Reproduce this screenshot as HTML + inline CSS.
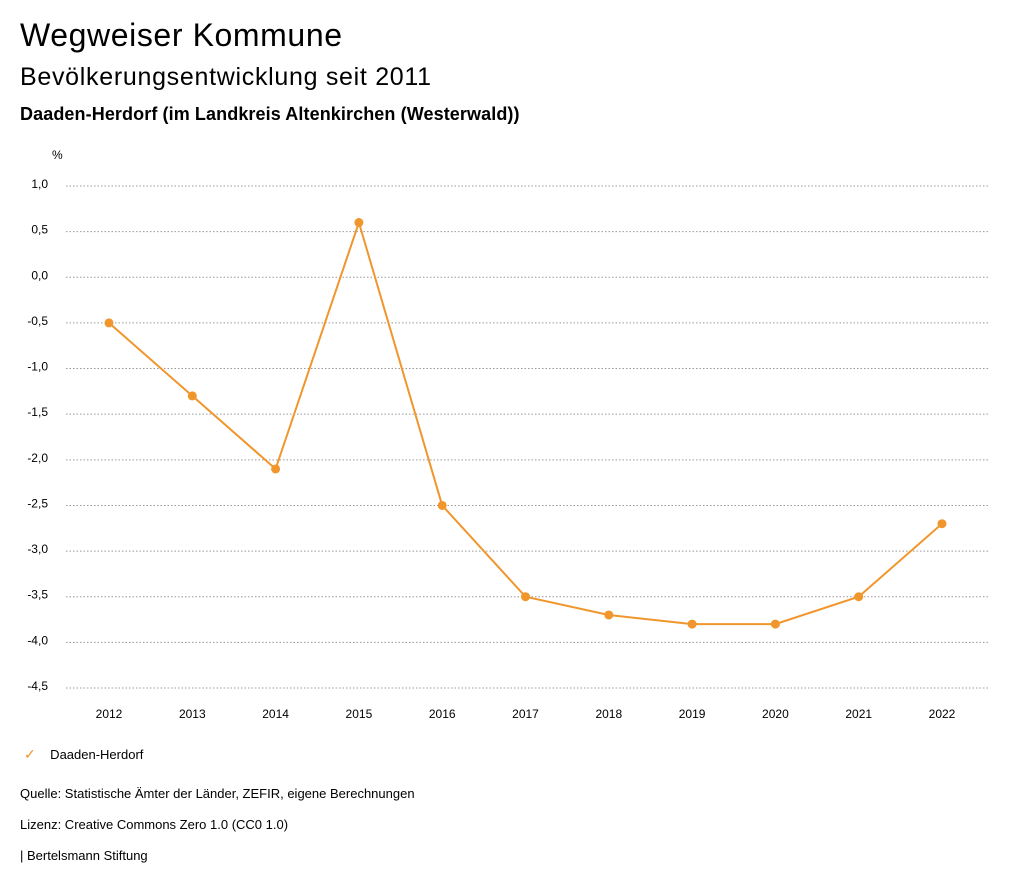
<!DOCTYPE html>
<html><head><meta charset="utf-8"><style>
body{margin:0;width:1024px;height:888px;background:#fff;font-family:"Liberation Sans",sans-serif;color:#000;overflow:hidden}
.t{position:absolute;left:20px;white-space:nowrap}
</style></head><body>
<div class="t" style="top:17px;font-size:32px;letter-spacing:0.6px">Wegweiser Kommune</div>
<div class="t" style="top:63px;font-size:25px;letter-spacing:0.7px">Bevölkerungsentwicklung seit 2011</div>
<div class="t" style="top:104px;font-size:18px;font-weight:bold;letter-spacing:0.1px">Daaden-Herdorf (im Landkreis Altenkirchen (Westerwald))</div>
<svg id="chart" width="1024" height="740" style="position:absolute;left:0;top:0"></svg>
<div class="t" style="top:746px;font-size:13px;left:24px"><span style="color:#f0962d;font-size:14px">✓</span>&nbsp;&nbsp;&nbsp;&nbsp;Daaden-Herdorf</div>
<div class="t" style="top:786px;font-size:13px">Quelle: Statistische Ämter der Länder, ZEFIR, eigene Berechnungen</div>
<div class="t" style="top:817px;font-size:13px">Lizenz: Creative Commons Zero 1.0 (CC0 1.0)</div>
<div class="t" style="top:848px;font-size:13px">| Bertelsmann Stiftung</div>
<script>
const years=["2012","2013","2014","2015","2016","2017","2018","2019","2020","2021","2022"];
const values=[-0.5,-1.3,-2.1,0.6,-2.5,-3.5,-3.7,-3.8,-3.8,-3.5,-2.7];
const yTicks=[1.0,0.5,0,-0.5,-1.0,-1.5,-2.0,-2.5,-3.0,-3.5,-4.0,-4.5];
const svg=document.getElementById('chart');const NS='http://www.w3.org/2000/svg';
function y(v){return 186+(1.0-v)/5.5*502;}
function x(i){return 109+i*(942-109)/(years.length-1);}
function mk(t,a,p){const e=document.createElementNS(NS,t);for(const k in a)e.setAttribute(k,a[k]);(p||svg).appendChild(e);return e;}
const u=mk('text',{x:52,y:159,'font-size':12});u.textContent='%';


yTicks.forEach(v=>{
 const l=mk('line',{x1:66,x2:990,y1:y(v),y2:y(v),stroke:'#999','stroke-dasharray':'1.5,2','stroke-width':1});
 
 
 const t=mk('text',{x:48,y:y(v)+2,'font-size':12,'text-anchor':'end'});
 t.textContent=v.toFixed(1).replace('.',',');
 
 
});
years.forEach((yr,i)=>{
 const t=mk('text',{x:x(i),y:718,'font-size':12,'text-anchor':'middle'});t.textContent=yr;
 
 
});
const p=mk('polyline',{points:values.map((v,i)=>x(i)+','+y(v)).join(' '),fill:'none',stroke:'#f0962d','stroke-width':2});


values.forEach((v,i)=>{
 const c=mk('circle',{cx:x(i),cy:y(v),r:4.5,fill:'#f0962d'});
 
 
});
</script>
</body></html>
